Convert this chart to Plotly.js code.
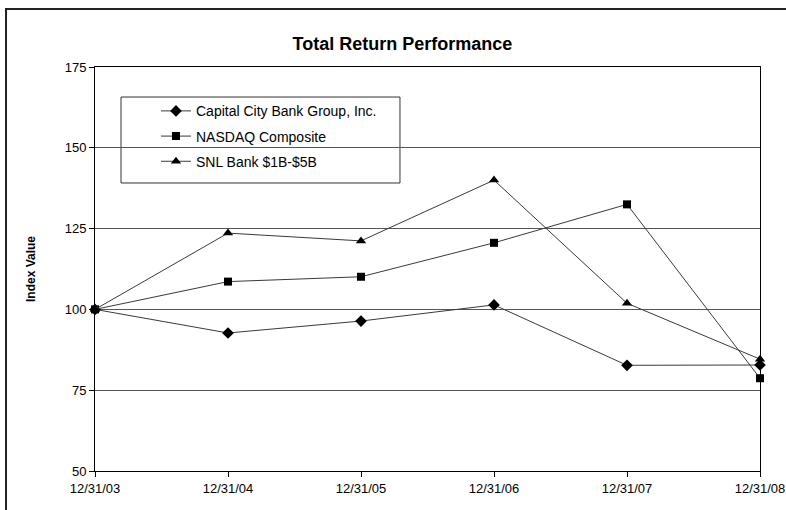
<!DOCTYPE html>
<html>
<head>
<meta charset="utf-8">
<script src="https://cdn.plot.ly/plotly-3.0.1.min.js"></script>
<style>
html,body{margin:0;padding:0;background:#fff;}
#chart{width:786px;height:510px;}
</style>
</head>
<body>
<div id="chart"></div>
<script>
var dates = ["12/31/03", "12/31/04", "12/31/05", "12/31/06", "12/31/07", "12/31/08"];
var capitalCity = [100, 92.7, 96.4, 101.4, 82.7, 82.8];
var nasdaq = [100, 108.6, 110.1, 120.6, 132.5, 78.7];
var snlBank = [100, 123.6, 121.2, 140.0, 101.9, 84.6];
var seriesNames = ["Capital City Bank Group, Inc.", "NASDAQ Composite", "SNL Bank $1B-$5B"];

var font = "Arial, 'Liberation Sans', sans-serif";
function tr(y, name, sym, size, i) {
  return {
    x: dates, y: y, name: name, type: "scatter", mode: "lines+markers",
    cliponaxis: false, legendgroup: "g" + i,
    line: {color: "#3a3a3a", width: 1},
    marker: {symbol: sym, size: size, color: "#000"}
  };
}
var data = [
  tr(capitalCity, seriesNames[0], "diamond", 9, 0),
  tr(nasdaq, seriesNames[1], "square", 8, 1),
  tr(snlBank, seriesNames[2], "triangle-up", 9, 2)
];

var layout = {
  width: 786, height: 510,
  margin: {l: 95, r: 26, t: 67, b: 39},
  paper_bgcolor: "#fff", plot_bgcolor: "#fff",
  font: {family: font, size: 13, color: "#000"},
  showlegend: true,
  title: {text: "<b>Total Return Performance</b>", font: {family: font, size: 18, color: "#000"}, x: 0.512, xanchor: "center", y: 0.915, yanchor: "middle"},
  xaxis: {
    type: "category", range: [0, 5], showgrid: false, zeroline: false,
    showline: true, linecolor: "#000", linewidth: 1, mirror: true,
    ticks: "outside", ticklen: 5, tickcolor: "#000",
    tickfont: {family: font, size: 13, color: "#000"}
  },
  yaxis: {
    range: [50, 175], dtick: 25, tick0: 50, showgrid: true, gridcolor: "#555", gridwidth: 1,
    zeroline: false, showline: true, linecolor: "#000", linewidth: 1, mirror: true,
    ticks: "outside", ticklen: 5, tickcolor: "#000",
    tickfont: {family: font, size: 13, color: "#000"},
    title: {text: "<b>Index Value</b>", font: {family: font, size: 12, color: "#000"}, standoff: 26}
  },
  legend: {
    x: 0.0917, y: 0.93, xanchor: "left", yanchor: "top",
    bgcolor: "rgba(0,0,0,0)", borderwidth: 0,
    font: {family: font, size: 14, color: "#000"},
    tracegroupgap: 4, traceorder: "grouped"
  },
  shapes: [
    {type: "rect", xref: "paper", yref: "paper", x0: 0.0391, x1: 0.4586, y0: 0.7129, y1: 0.9257,
     line: {color: "#333", width: 1}, fillcolor: "rgba(0,0,0,0)", layer: "below"},
    {type: "rect", xref: "paper", yref: "paper", x0: -0.1338, x1: 1.2, y0: -0.3, y1: 1.1436,
     line: {color: "#222", width: 2}, fillcolor: "rgba(0,0,0,0)"}
  ]
};
Plotly.newPlot("chart", data, layout, {displayModeBar: false, staticPlot: true});
</script>
</body>
</html>
